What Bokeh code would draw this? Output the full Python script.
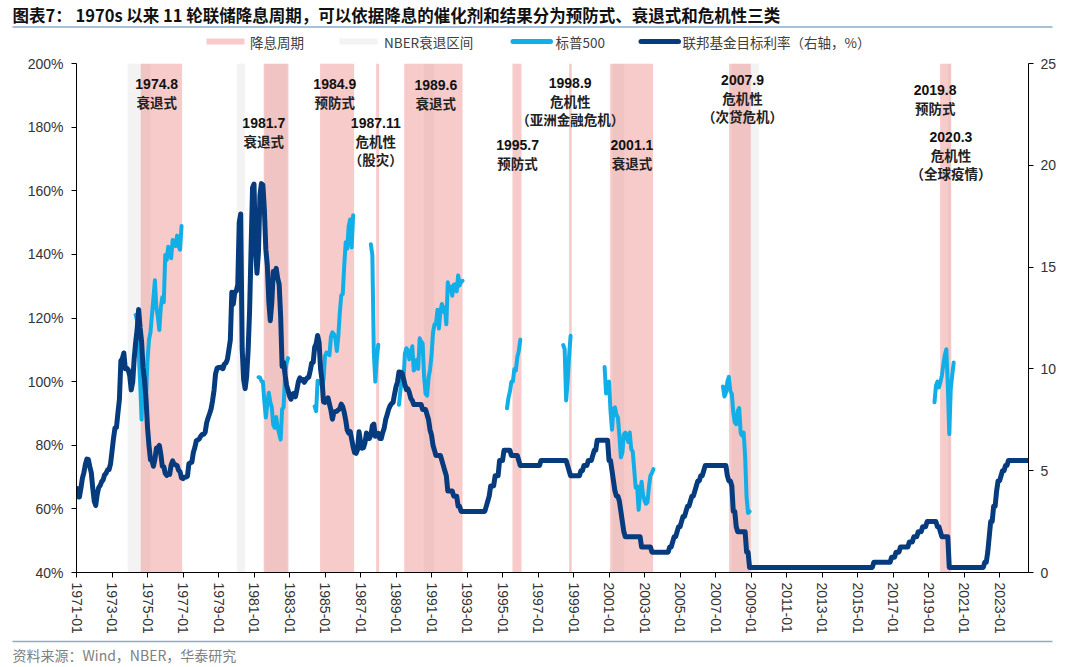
from bokeh.plotting import figure
from bokeh.layouts import column, row
from bokeh.models import (Range1d, LinearAxis, FixedTicker, ColumnDataSource,
                          PrintfTickFormatter, CustomJSTickFormatter)
from bokeh.embed import file_html
from bokeh.resources import INLINE
from bokeh.core.properties import value

# ---------------- data ----------------
# Fed funds rate (monthly, %), 1971-01 .. 2024-08
fed_start = "1971-01"
fed_rate = [
    4.14, 3.72, 3.71, 4.15, 4.63, 4.91, 5.31, 5.57, 5.55, 5.20, 4.91, 4.14,
    3.50, 3.29, 3.83, 4.17, 4.27, 4.46, 4.55, 4.80, 4.87, 5.04, 5.06, 5.33,
    5.94, 6.58, 7.09, 7.12, 7.84, 8.49, 10.40, 10.50, 10.78, 10.01, 10.03, 9.95,
    9.65, 8.97, 9.35, 10.51, 11.31, 11.93, 12.92, 12.01, 11.34, 10.06, 9.45, 8.53,
    7.13, 6.24, 5.54, 5.49, 5.22, 5.55, 6.10, 6.14, 6.24, 5.82, 5.22, 5.20,
    4.87, 4.77, 4.84, 4.82, 5.29, 5.48, 5.31, 5.29, 5.25, 5.02, 4.95, 4.65,
    4.61, 4.68, 4.69, 4.73, 5.35, 5.39, 5.42, 5.90, 6.14, 6.47, 6.51, 6.56,
    6.70, 6.78, 6.79, 6.89, 7.36, 7.60, 7.81, 8.04, 8.45, 8.96, 9.76, 10.03,
    10.07, 10.06, 10.09, 10.01, 10.24, 10.29, 10.47, 10.94, 11.43, 13.77, 13.18, 13.78,
    13.82, 14.13, 17.19, 17.61, 10.98, 9.47, 9.03, 9.61, 10.87, 12.81, 15.85, 18.90,
    19.08, 15.93, 14.70, 15.72, 18.52, 19.10, 19.04, 17.82, 15.87, 15.08, 13.31, 12.37,
    13.22, 14.78, 14.68, 14.94, 14.45, 14.15, 12.59, 10.12, 10.31, 9.71, 9.20, 8.95,
    8.68, 8.51, 8.77, 8.80, 8.63, 8.98, 9.37, 9.56, 9.45, 9.48, 9.34, 9.47,
    9.56, 9.59, 9.91, 10.29, 10.32, 11.06, 11.23, 11.64, 11.30, 9.99, 9.43, 8.38,
    8.35, 8.50, 8.58, 8.27, 7.97, 7.53, 7.88, 7.90, 7.92, 7.99, 8.05, 8.27,
    8.14, 7.86, 7.48, 6.99, 6.85, 6.92, 6.56, 6.17, 5.89, 5.85, 6.04, 6.91,
    6.43, 6.10, 6.13, 6.37, 6.85, 6.73, 6.58, 6.73, 7.22, 7.29, 6.69, 6.77,
    6.83, 6.58, 6.58, 6.87, 7.09, 7.51, 7.75, 8.01, 8.19, 8.30, 8.35, 8.76,
    9.12, 9.36, 9.85, 9.84, 9.81, 9.53, 9.24, 8.99, 9.02, 8.84, 8.55, 8.45,
    8.25, 8.25, 8.25, 8.25, 8.25, 8.25, 8.00, 8.00, 8.00, 7.75, 7.50, 7.00,
    6.75, 6.25, 6.00, 5.75, 5.75, 5.75, 5.75, 5.50, 5.25, 5.00, 4.75, 4.00,
    4.00, 4.00, 4.00, 3.75, 3.75, 3.75, 3.25, 3.25, 3.00, 3.00, 3.00, 3.00,
    3.00, 3.00, 3.00, 3.00, 3.00, 3.00, 3.00, 3.00, 3.00, 3.00, 3.00, 3.00,
    3.00, 3.25, 3.50, 3.75, 4.25, 4.25, 4.25, 4.75, 4.75, 4.75, 5.50, 5.50,
    5.50, 6.00, 6.00, 6.00, 6.00, 6.00, 5.75, 5.75, 5.75, 5.75, 5.75, 5.50,
    5.25, 5.25, 5.25, 5.25, 5.25, 5.25, 5.25, 5.25, 5.25, 5.25, 5.25, 5.25,
    5.25, 5.25, 5.50, 5.50, 5.50, 5.50, 5.50, 5.50, 5.50, 5.50, 5.50, 5.50,
    5.50, 5.50, 5.50, 5.50, 5.50, 5.50, 5.50, 5.50, 5.25, 5.00, 4.75, 4.75,
    4.75, 4.75, 4.75, 4.75, 4.75, 5.00, 5.00, 5.25, 5.25, 5.25, 5.50, 5.50,
    5.50, 5.75, 6.00, 6.00, 6.50, 6.50, 6.50, 6.50, 6.50, 6.50, 6.50, 6.50,
    5.50, 5.50, 5.00, 4.50, 4.00, 3.75, 3.75, 3.50, 3.00, 2.50, 2.00, 1.75,
    1.75, 1.75, 1.75, 1.75, 1.75, 1.75, 1.75, 1.75, 1.75, 1.75, 1.25, 1.25,
    1.25, 1.25, 1.25, 1.25, 1.25, 1.00, 1.00, 1.00, 1.00, 1.00, 1.00, 1.00,
    1.00, 1.00, 1.00, 1.00, 1.00, 1.25, 1.25, 1.50, 1.75, 1.75, 2.00, 2.25,
    2.25, 2.50, 2.75, 2.75, 3.00, 3.25, 3.25, 3.50, 3.75, 3.75, 4.00, 4.25,
    4.50, 4.50, 4.75, 4.75, 5.00, 5.25, 5.25, 5.25, 5.25, 5.25, 5.25, 5.25,
    5.25, 5.25, 5.25, 5.25, 5.25, 5.25, 5.25, 5.25, 4.75, 4.50, 4.50, 4.25,
    3.00, 3.00, 2.25, 2.00, 2.00, 2.00, 2.00, 2.00, 2.00, 1.00, 1.00, 0.25,
    0.25, 0.25, 0.25, 0.25, 0.25, 0.25, 0.25, 0.25, 0.25, 0.25, 0.25, 0.25,
    0.25, 0.25, 0.25, 0.25, 0.25, 0.25, 0.25, 0.25, 0.25, 0.25, 0.25, 0.25,
    0.25, 0.25, 0.25, 0.25, 0.25, 0.25, 0.25, 0.25, 0.25, 0.25, 0.25, 0.25,
    0.25, 0.25, 0.25, 0.25, 0.25, 0.25, 0.25, 0.25, 0.25, 0.25, 0.25, 0.25,
    0.25, 0.25, 0.25, 0.25, 0.25, 0.25, 0.25, 0.25, 0.25, 0.25, 0.25, 0.25,
    0.25, 0.25, 0.25, 0.25, 0.25, 0.25, 0.25, 0.25, 0.25, 0.25, 0.25, 0.25,
    0.25, 0.25, 0.25, 0.25, 0.25, 0.25, 0.25, 0.25, 0.25, 0.25, 0.25, 0.50,
    0.50, 0.50, 0.50, 0.50, 0.50, 0.50, 0.50, 0.50, 0.50, 0.50, 0.50, 0.75,
    0.75, 0.75, 1.00, 1.00, 1.00, 1.25, 1.25, 1.25, 1.25, 1.25, 1.25, 1.50,
    1.50, 1.50, 1.75, 1.75, 1.75, 2.00, 2.00, 2.00, 2.25, 2.25, 2.25, 2.50,
    2.50, 2.50, 2.50, 2.50, 2.50, 2.50, 2.25, 2.25, 2.00, 1.75, 1.75, 1.75,
    1.75, 1.75, 0.25, 0.25, 0.25, 0.25, 0.25, 0.25, 0.25, 0.25, 0.25, 0.25,
    0.25, 0.25, 0.25, 0.25, 0.25, 0.25, 0.25, 0.25, 0.25, 0.25, 0.25, 0.25,
    0.25, 0.25, 0.50, 0.50, 1.00, 1.75, 2.50, 2.50, 3.25, 3.25, 4.00, 4.50,
    4.50, 4.75, 5.00, 5.00, 5.25, 5.25, 5.50, 5.50, 5.50, 5.50, 5.50, 5.50,
    5.50, 5.50, 5.50, 5.50, 5.50, 5.50, 5.50, 5.50,
]

# S&P 500 around each easing cycle (monthly, % of level at first cut)
sp_starts = ["1974-05", "1981-04", "1984-06", "1987-08", "1989-03",
             "1995-04", "1998-06", "2000-10", "2007-06", "2019-05"]
sp_values = [
    [121.0, 119.2, 109.9, 100.0, 88.1, 102.4, 97.0, 95.0, 106.7, 113.1, 115.5, 121.0,
     126.3, 131.9, 123.0, 120.4, 116.2, 123.4, 126.5, 125.0, 139.8, 138.2, 142.4, 140.9,
     138.8, 144.5, 143.4, 142.6, 145.9, 142.6, 141.5, 148.9],
    [101.4, 101.3, 100.2, 100.0, 93.8, 88.7, 93.1, 96.5, 93.6, 92.0, 86.4, 85.5, 88.9,
     85.5, 83.7, 81.8, 91.3, 92.0, 102.1, 105.8, 107.4],
    [92.2, 90.7, 100.3, 100.0, 100.0, 98.5, 100.7, 108.1, 109.1, 108.8, 108.3, 114.1,
     115.5, 114.9, 113.6, 109.6, 114.3, 121.7, 127.2, 127.5, 136.6, 143.8, 141.8, 148.9,
     151.0, 142.2, 152.3],
    [143.2, 139.7, 109.3, 100.0, 107.3, 111.6],
    [92.7, 97.4, 100.8, 100.0, 108.8, 110.5, 109.8, 107.0, 108.8, 111.1, 103.5, 104.4,
     106.9, 104.0, 113.6, 112.6, 112.0, 101.4, 96.2, 95.6, 101.3, 103.8, 108.2, 115.4,
     118.0, 118.0, 122.6, 116.7, 122.0, 124.4, 122.0, 123.4, 118.0, 131.2, 128.6, 129.8,
     127.0, 130.5, 130.6, 128.4, 133.4, 130.2, 131.4, 131.7],
    [91.6, 94.9, 96.9, 100.0, 100.0, 104.0, 103.5, 107.7, 109.6, 113.2],
    [111.5, 110.2, 94.1, 100.0, 108.0, 114.4],
    [104.6, 96.3, 96.7, 100.0, 90.8, 84.9, 91.5, 91.9, 89.6, 88.7, 83.0, 76.2, 77.6,
     83.4, 84.0, 82.7, 81.0, 84.0, 78.8, 78.1, 72.5, 66.7, 67.1, 59.7, 64.8, 68.5, 64.4,
     62.6, 61.6, 62.1, 67.1, 70.5, 71.3, 72.5],
    [98.5, 95.3, 96.5, 100.0, 101.5, 97.0, 96.2, 90.3, 87.2, 86.6, 90.8, 91.7, 83.8,
     83.0, 84.0, 76.4, 63.5, 58.7, 59.2],
    [93.5, 98.7, 100.0, 98.2, 99.9, 101.9, 105.4, 108.4, 110.2, 99.1, 83.5, 97.7,
     102.1, 106.0],
]

# easing cycles (pink) and NBER recessions (grey), in decimal years
cut_start = [1974.62, 1981.57, 1984.72, 1987.88, 1989.46, 1995.56, 1998.75, 2001.06, 2007.76, 2019.65]
cut_end = [1976.95, 1982.94, 1986.64, 1988.05, 1992.75, 1996.07, 1998.90, 2003.48, 2008.99, 2020.26]
nber_start = [1973.88, 1980.05, 1981.50, 1990.56, 2001.20, 2007.90, 2020.10]
nber_end = [1975.17, 1980.48, 1982.88, 1991.15, 2001.85, 2009.46, 2020.30]

# annotations
ann_num = ["1974.8", "1981.7", "1984.9", "1987.11", "1989.6", "1995.7",
           "1998.9", "2001.1", "2007.9", "2019.8", "2020.3"]
ann_type = ["衰退式", "衰退式", "预防式", "危机性", "衰退式", "预防式",
            "危机性", "衰退式", "危机性", "预防式", "危机性"]
ann_cause = ["", "", "", "（股灾）", "", "", "（亚洲金融危机）", "",
             "（次贷危机）", "", "（全球疫情）"]
ann_x = [1975.52, 1981.55, 1985.55, 1987.86, 1991.24, 1995.85,
         1998.81, 2002.29, 2008.52, 2019.37, 2020.26]
ann_y = [193.6, 181.2, 193.6, 181.2, 193.2, 174.4, 193.9, 174.4, 194.8, 191.6, 176.8]

x_ticks = list(range(1971, 2024, 2))
left_ticks = [40, 60, 80, 100, 120, 140, 160, 180, 200]
right_ticks = [0, 5, 10, 15, 20, 25]

legend_labels = ["降息周期", "NBER衰退区间", "标普500", "联邦基金目标利率（右轴，%）"]
title_text = "图表7：  1970s 以来 11 轮联储降息周期，可以依据降息的催化剂和结果分为预防式、衰退式和危机性三类"
source_text = "资料来源：Wind，NBER，华泰研究"

PINK, PINK_A = "#f08c8c", 0.45
GREY = "#f3f3f3"
SP_COLOR = "#12aee8"
FF_COLOR = "#063b7d"
RULE = "#8eaacb"
W = 1072


def ym(s):
    y, m = s.split("-")
    return int(y) + (int(m) - 1) / 12.0


def bare_figure(height, y0, y1):
    fig = figure(width=W, height=height, output_backend="svg", toolbar_location=None,
                 x_range=Range1d(0, W), y_range=Range1d(y1, y0),
                 x_axis_location=None, y_axis_location=None,
                 min_border=0, min_border_left=0, min_border_right=0,
                 min_border_top=0, min_border_bottom=0)
    fig.outline_line_color = None
    fig.grid.visible = False
    fig.background_fill_color = "white"
    fig.border_fill_color = "white"
    return fig


# ---------------- header (title + legend), page pixels 0..50 ----------------
H_TOP = 50
hdr = bare_figure(H_TOP, 0, H_TOP)
hdr.text(x=[12], y=[14], text=[title_text], text_font=value("Noto Sans CJK SC"),
         text_font_style="bold", text_font_size="16.5px", text_baseline="middle",
         text_align="left", text_color="#111111")
hdr.segment(x0=[12], y0=[26.5], x1=[1052], y1=[26.5], line_color=RULE, line_width=1.5)
# legend swatches
hdr.quad(left=[206], right=[244], top=[38], bottom=[44], fill_color=PINK,
         fill_alpha=PINK_A, line_color=None)
hdr.quad(left=[339], right=[377], top=[38], bottom=[44], fill_color=GREY, line_color=None)
hdr.line(x=[512.5, 550], y=[41, 41], line_color=SP_COLOR, line_width=5, line_cap="round")
hdr.line(x=[640.5, 678], y=[41, 41], line_color=FF_COLOR, line_width=5, line_cap="round")
hdr.text(x=[249.5, 383.5, 555, 682], y=[41, 41, 41, 41], text=legend_labels,
         text_font=value("Noto Sans CJK SC"), text_font_size="13.5px",
         text_baseline="middle", text_align="left", text_color="#404040")

# ---------------- main chart, page pixels 50..638 ----------------
MAIN_H = 588
p = figure(width=W, height=MAIN_H, output_backend="svg", toolbar_location=None,
           x_range=Range1d(1971.0, 2024.63), y_range=Range1d(40, 200),
           min_border_left=76, min_border_right=W - 1028, min_border_top=13,
           min_border_bottom=66)
p.outline_line_color = None
p.grid.visible = False
p.background_fill_color = "white"
p.border_fill_color = "white"

# bands
p.quad(left=nber_start, right=nber_end, bottom=40, top=200,
       fill_color=GREY, line_color=None)
p.quad(left=cut_start, right=cut_end, bottom=40, top=200,
       fill_color=PINK, fill_alpha=PINK_A, line_color=None)

# S&P segments
xs, ys = [], []
for s, vals in zip(sp_starts, sp_values):
    x0 = ym(s)
    xs.append([x0 + i / 12.0 for i in range(len(vals))])
    ys.append(vals)
p.multi_line(xs=xs, ys=ys, line_color=SP_COLOR, line_width=4,
             line_join="round", line_cap="round")

# Fed funds rate on right axis
p.extra_y_ranges = {"ff": Range1d(0, 25)}
fx = [ym(fed_start) + i / 12.0 for i in range(len(fed_rate))]
p.line(fx, fed_rate, y_range_name="ff", line_color=FF_COLOR, line_width=5,
       line_join="round", line_cap="round")

# annotations
src = ColumnDataSource(dict(x=ann_x, y=ann_y, num=ann_num, typ=ann_type, cause=ann_cause))
p.text(x="x", y="y", text="num", source=src, text_font=value("Liberation Sans"),
       text_font_style="bold", text_font_size="14px", text_align="center",
       text_baseline="middle", text_color="#111111")
p.text(x="x", y="y", text="typ", source=src, y_offset=18, text_font=value("Noto Sans CJK SC"),
       text_font_style="bold", text_font_size="13.5px", text_align="center",
       text_baseline="middle", text_color="#222222")
p.text(x="x", y="y", text="cause", source=src, y_offset=36, text_font=value("Noto Sans CJK SC"),
       text_font_style="bold", text_font_size="13.5px", text_align="center",
       text_baseline="middle", text_color="#222222")


def style_axis(ax):
    ax.axis_line_color = "#000000"
    ax.axis_line_width = 1
    ax.major_tick_line_color = "#000000"
    ax.major_tick_out = 5
    ax.major_tick_in = 0
    ax.minor_tick_line_color = None
    ax.major_label_text_font = "Liberation Sans"
    ax.major_label_text_font_size = "14px"
    ax.major_label_text_color = "#333333"


xa = p.xaxis[0]
style_axis(xa)
xa.ticker = FixedTicker(ticks=x_ticks)
xa.formatter = CustomJSTickFormatter(code="return Math.round(tick) + '-01';")
xa.major_label_orientation = "vertical"
xa.major_label_standoff = 5

ya = p.yaxis[0]
style_axis(ya)
ya.ticker = FixedTicker(ticks=left_ticks)
ya.formatter = PrintfTickFormatter(format="%d%%")
ya.major_label_standoff = 8

ra = LinearAxis(y_range_name="ff", ticker=FixedTicker(ticks=right_ticks))
style_axis(ra)
ra.major_label_standoff = 7
p.add_layout(ra, "right")

# ---------------- footer (source), page pixels 638..665 ----------------
F_TOP, F_H = 638, 27
ftr = bare_figure(F_H, F_TOP, F_TOP + F_H)
ftr.segment(x0=[12], y0=[641], x1=[1052], y1=[641], line_color=RULE, line_width=1.5)
ftr.text(x=[12], y=[654], text=[source_text], text_font=value("Noto Sans CJK SC"),
         text_font_size="14px", text_baseline="middle", text_align="left",
         text_color="#808080")

# wrap the text strips in their own rows so their frames are not aligned with the chart's
layout = column(row(hdr), p, row(ftr), spacing=0)
open("out.html", "w").write(file_html(layout, INLINE))
